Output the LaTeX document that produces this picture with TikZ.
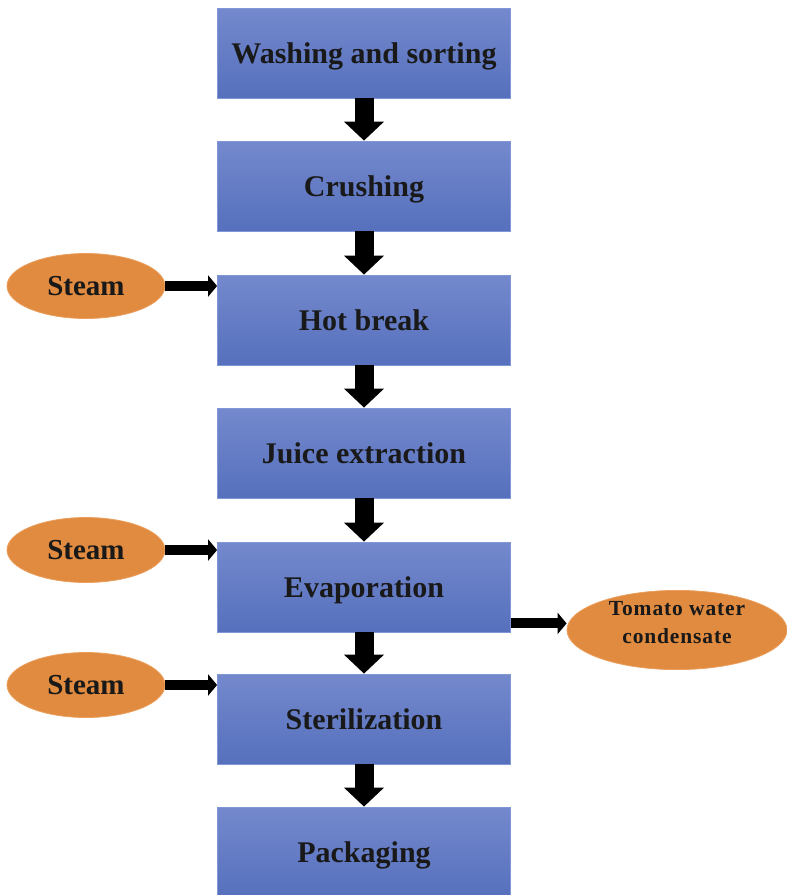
\documentclass[tikz,border=0pt]{standalone}
\usepackage{fontspec}
\setmainfont{Liberation Serif}
\newfontfamily\spacedfont[LetterSpace=4]{Liberation Serif}
\usetikzlibrary{arrows.meta,calc,shapes.geometric}
\definecolor{boxtop}{HTML}{7489CD}
\definecolor{boxbot}{HTML}{5670BD}
\definecolor{boxline}{HTML}{8196D4}
\definecolor{orng}{HTML}{E08B3F}
\definecolor{orngline}{HTML}{EBA060}
\tikzset{
  stepbox/.style={rectangle, minimum width=293pt, minimum height=90pt, inner sep=0pt,
    top color=boxtop, bottom color=boxbot, draw=boxline, line width=0.8pt,
    text height=20pt, text depth=0pt,
    font=\fontsize{30}{34}\selectfont\bfseries, text=black!90},
  oval/.style={ellipse, minimum width=158pt, minimum height=65pt, inner sep=0pt,
    fill=orng, draw=orngline, line width=0.8pt, text height=18pt, text depth=0pt,
    font=\fontsize{29}{34}\selectfont\bfseries, text=black!90},
  downarrow/.style={draw=black, line width=19pt, -{Triangle[width=39pt,length=19pt]}},
  sidearrow/.style={draw=black, line width=10pt, -{Triangle[width=21pt,length=9pt]}}
}
\begin{document}
\begin{tikzpicture}[x=1pt,y=-1pt]
\useasboundingbox (0,0) rectangle (787,895);
\node[stepbox] (b1) at (364,53) {Washing and sorting};
\node[stepbox] (b2) at (364,186) {Crushing};
\node[stepbox] (b3) at (364,320) {Hot break};
\node[stepbox] (b4) at (364,453) {Juice extraction};
\node[stepbox] (b5) at (364,587) {Evaporation};
\node[stepbox] (b6) at (364,719) {Sterilization};
\node[stepbox] (b7) at (364,852) {Packaging};
\node[oval] (s1) at (86,286) {Steam};
\node[oval] (s2) at (86,550) {Steam};
\node[oval] (s3) at (86,685) {Steam};
\node[ellipse, minimum width=220pt, minimum height=76pt, inner sep=0pt,
  fill=orng, draw=orngline, line width=0.8pt,
  font=\fontsize{21.5}{28}\selectfont\spacedfont\bfseries, text=black!90] (t) at (677,630)
  {\raisebox{6pt}[\height][\depth]{\begin{tabular}{@{}c@{}}Tomato water\\condensate\end{tabular}}};
\draw[downarrow] (b1.south) -- (b2.north);
\draw[downarrow] (b2.south) -- (b3.north);
\draw[downarrow] (b3.south) -- (b4.north);
\draw[downarrow] (b4.south) -- (b5.north);
\draw[downarrow] (b5.south) -- (b6.north);
\draw[downarrow] (b6.south) -- (b7.north);
\draw[sidearrow] (s1.east) -- (s1.east -| b3.west);
\draw[sidearrow] (s2.east) -- (s2.east -| b5.west);
\draw[sidearrow] (s3.east) -- (s3.east -| b6.west);
\coordinate (o5) at ($(b5.south east)+(0,-9)$);
\draw[sidearrow] (o5) -- (o5 -| t.west);
\end{tikzpicture}
\end{document}
